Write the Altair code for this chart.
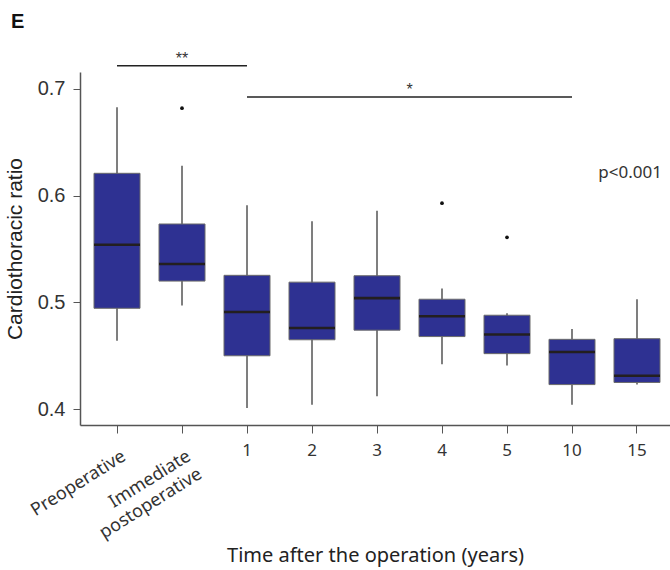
import altair as alt
import pandas as pd

# ---- data ----
groups = ["Preoperative", "Immediate\npostoperative", "1", "2", "3", "4", "5", "10", "15"]
whisker_low = [0.464, 0.497, 0.401, 0.404, 0.412, 0.442, 0.441, 0.404, 0.423]
q1 = [0.4945, 0.520, 0.450, 0.465, 0.474, 0.468, 0.452, 0.423, 0.425]
median = [0.554, 0.536, 0.491, 0.476, 0.504, 0.487, 0.470, 0.4535, 0.4313]
q3 = [0.621, 0.5735, 0.5254, 0.519, 0.525, 0.503, 0.488, 0.4654, 0.466]
whisker_high = [0.683, 0.628, 0.591, 0.576, 0.586, 0.513, 0.4898, 0.475, 0.503]

outlier_groups = ["Immediate\npostoperative", "4", "5"]
outlier_values = [0.682, 0.593, 0.561]

sig_from = ["Preoperative", "1"]
sig_to = ["1", "10"]
sig_y = [0.7218, 0.6925]
sig_label = ["**", "*"]
sig_text_at = ["Immediate\npostoperative", "3"]   # category at (or ending at) the bracket midpoint

rotated_labels = ["Preoperative", "Immediate\npostoperative"]

# ---- tables ----
box_df = pd.DataFrame({"g": groups, "lo": whisker_low, "q1": q1, "med": median,
                       "q3": q3, "hi": whisker_high})
out_df = pd.DataFrame({"g": outlier_groups, "v": outlier_values})
sig_df = pd.DataFrame({"a": sig_from, "b": sig_to, "y": sig_y, "lab": sig_label,
                       "t": sig_text_at})
rot_df = pd.DataFrame({"g": rotated_labels})

BOX_FILL = "#2E3192"

xscale = alt.Scale(domain=groups, paddingInner=0, paddingOuter=0.0385, align=0.9)
yscale = alt.Scale(domain=[0.38513, 0.71593], nice=False, zero=False)

xaxis = alt.Axis(title="Time after the operation (years)",
                 labelExpr="length(datum.label) > 3 ? '' : datum.label",
                 labelAngle=0, labelFont="Noto Sans", labelFontSize=17,
                 labelColor="#333333", labelPadding=9, tickSize=8,
                 tickColor="#555555", domainColor="#555555", domainWidth=1.5,
                 titleFont="Noto Sans", titleFontSize=20, titleFontWeight="normal",
                 titleColor="#222222", titlePadding=87)
yaxis = alt.Axis(title="Cardiothoracic ratio", values=[0.4, 0.5, 0.6, 0.7], format=".1f",
                 labelFont="Liberation Sans", labelFontSize=20, labelColor="#333333",
                 labelPadding=8, tickSize=7, tickColor="#555555", domainColor="#555555",
                 domainWidth=1.5, grid=False, titleFont="Liberation Sans",
                 titleFontSize=21, titleFontWeight="normal", titleColor="#222222",
                 titlePadding=12)

base = alt.Chart(box_df)

whiskers = base.mark_rule(color="#3a3a3a", strokeWidth=1.3).encode(
    x=alt.X("g:N", scale=xscale, axis=xaxis, sort=groups),
    y=alt.Y("lo:Q", scale=yscale, axis=yaxis),
    y2="hi:Q",
)
boxes = base.mark_bar(size=46, fill=BOX_FILL, stroke="#6b6b6b", strokeWidth=1).encode(
    x=alt.X("g:N", sort=groups),
    y="q1:Q",
    y2="q3:Q",
)
medians = base.mark_tick(size=46, thickness=2.6, color="#231F20", opacity=1).encode(
    x=alt.X("g:N", sort=groups),
    y="med:Q",
)
outliers = alt.Chart(out_df).mark_circle(size=14, color="#111111", opacity=1).encode(
    x=alt.X("g:N", sort=groups),
    y="v:Q",
)

sig_lines = alt.Chart(sig_df).mark_rule(color="#222222", strokeWidth=1.3).encode(
    x=alt.X("a:N", sort=groups, bandPosition=0.5),
    x2=alt.X2("b:N", bandPosition=0.5),
    y="y:Q",
)
sig_text1 = alt.Chart(sig_df.iloc[[0]]).mark_text(
    font="Liberation Sans", fontSize=16, color="#333333", baseline="bottom", dy=1
).encode(x=alt.X("t:N", sort=groups, bandPosition=0.5), y="y:Q", text="lab:N")
sig_text2 = alt.Chart(sig_df.iloc[[1]]).mark_text(
    font="Liberation Sans", fontSize=16, color="#333333", baseline="bottom", dy=1
).encode(x=alt.X("t:N", sort=groups, bandPosition=1), y="y:Q", text="lab:N")

rot = alt.Chart(rot_df).mark_text(
    font="Noto Sans", fontSize=18, color="#333333", angle=328, align="right",
    baseline="top", lineBreak="\n", lineHeight=21, dx=3,
).encode(x=alt.X("g:N", sort=groups), y=alt.value(377), text="g:N")

ptext = alt.Chart(box_df.iloc[[0]]).mark_text(
    font="Noto Sans", fontSize=17, color="#333333", align="right", baseline="middle",
).encode(x=alt.value(582), y=alt.value(101), text=alt.value("p<0.001"))

panel = alt.Chart(box_df.iloc[[0]]).mark_text(
    font="Liberation Sans", fontSize=20, fontWeight="bold", color="#111111",
    align="left", baseline="top",
).encode(x=alt.value(-69), y=alt.value(-60), text=alt.value("E"))

chart = alt.layer(
    whiskers, boxes, medians, outliers, sig_lines, sig_text1, sig_text2, rot, ptext, panel
).properties(
    width=590, height=353,
    autosize=alt.AutoSizeParams(type="none"),
    padding={"left": 80, "top": 72, "right": 0, "bottom": 145},
).configure_view(stroke=None)

chart.save("out.html", embed_options={"renderer": "svg", "actions": False})
